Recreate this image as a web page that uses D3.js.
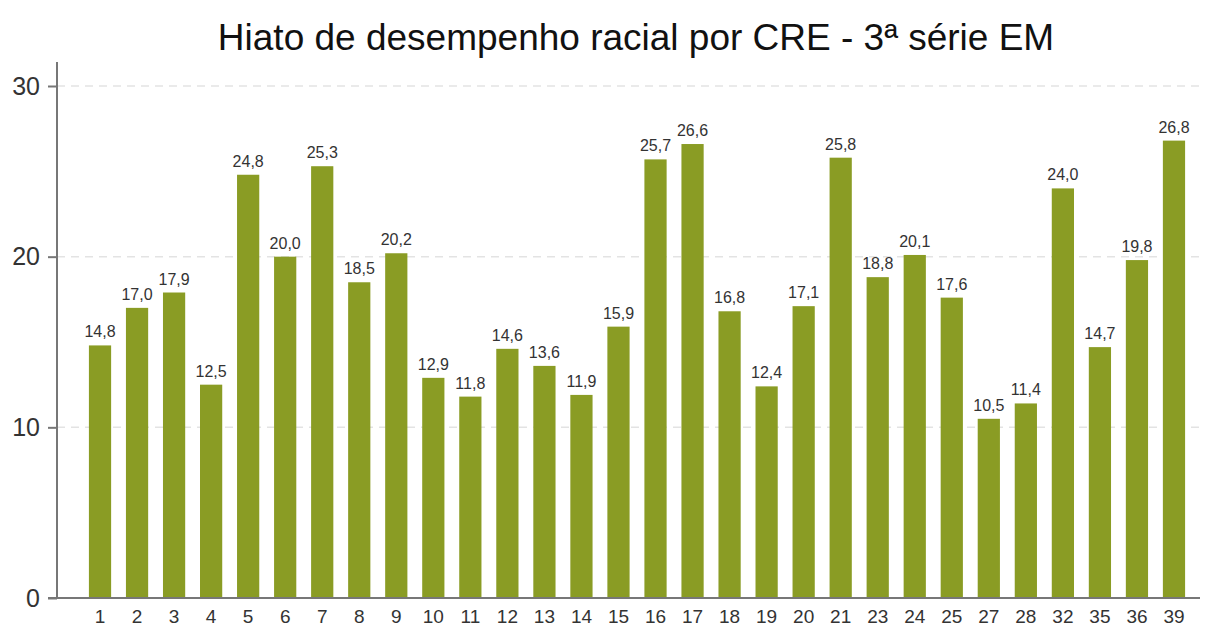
<!DOCTYPE html>
<html><head><meta charset="utf-8">
<script src="https://cdn.jsdelivr.net/npm/d3@7"></script>
<style>body{margin:0;background:#fff}svg{display:block}text{font-family:"Liberation Sans",Arial,sans-serif}</style>
</head><body><svg id="c" width="1207" height="630"></svg>
<script>
const categories = ["1","2","3","4","5","6","7","8","9","10","11","12","13","14","15","16","17","18","19","20","21","23","24","25","27","28","32","35","36","39"];
const values = [14.8,17.0,17.9,12.5,24.8,20.0,25.3,18.5,20.2,12.9,11.8,14.6,13.6,11.9,15.9,25.7,26.6,16.8,12.4,17.1,25.8,18.8,20.1,17.6,10.5,11.4,24.0,14.7,19.8,26.8];
const yTicks = [0,10,20,30];
const title = "Hiato de desempenho racial por CRE - 3ª série EM";

const svg = d3.select("#c");
const y = d3.scaleLinear().domain([0,30]).range([598,86]);
const x = d3.scaleBand().domain(categories).range([81.5,1192.5]).paddingInner(0.4).paddingOuter(0.2);
const fmt = v => v.toFixed(1).replace(".", ",");

// gridlines
svg.append("g").selectAll("line").data(yTicks.filter(d=>d>0)).join("line")
  .attr("x1",57).attr("x2",1200).attr("y1",d=>y(d)).attr("y2",d=>y(d))
  .attr("stroke","#e3e3e3").attr("stroke-width",1.5).attr("stroke-dasharray","8,6");

// bars
svg.append("g").selectAll("rect").data(values).join("rect")
  .attr("x",(d,i)=>x(categories[i])).attr("width",x.bandwidth())
  .attr("y",d=>y(d)).attr("height",d=>y(0)-y(d)).attr("fill","#8a9c24");

// value labels
svg.append("g").selectAll("text").data(values).join("text")
  .attr("x",(d,i)=>x(categories[i])+x.bandwidth()/2).attr("y",d=>y(d)-8)
  .attr("text-anchor","middle").attr("font-size",16).attr("fill","#333").text(fmt);

// y axis
const ya = svg.append("g").attr("transform","translate(57,0)")
  .call(d3.axisLeft(y).tickValues(yTicks).tickSize(9).tickPadding(8).tickFormat(d3.format("d")));
ya.select(".domain").attr("d","M0,"+(y(0))+"V62").attr("stroke","#777").attr("stroke-width",2);
ya.selectAll(".tick line").attr("stroke","#777").attr("stroke-width",2);
ya.selectAll(".tick text").attr("font-size",25).attr("fill","#333").attr("font-family","Liberation Sans, Arial, sans-serif");

// x axis
const xa = svg.append("g").attr("transform","translate(0,598)")
  .call(d3.axisBottom(x).tickSize(0).tickPadding(12));
xa.select(".domain").attr("d","M48,0H1200").attr("stroke","#777").attr("stroke-width",2);
xa.selectAll(".tick text").attr("font-size",19).attr("fill","#333").attr("font-family","Liberation Sans, Arial, sans-serif");

// title
svg.append("text").attr("x",636).attr("y",50).attr("text-anchor","middle")
  .attr("font-size",37).attr("fill","#111").text(title);
</script></body></html>
